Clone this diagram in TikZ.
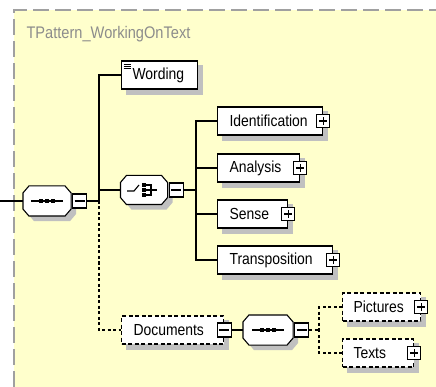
\documentclass[tikz,border=0pt]{standalone}
\usepackage{fontspec}
\setmainfont{Liberation Sans}[FakeStretch=0.87]
\usetikzlibrary{positioning,backgrounds}

\definecolor{bgyellow}{HTML}{FFFFCC}
\definecolor{framegray}{HTML}{A0A0A0}
\definecolor{titlegray}{HTML}{8C8C8C}
\definecolor{boxshadow}{HTML}{C0C0C0}

% octagon round a node, #1 = offset of the copy (shadow), #2 = node
\newcommand\octpath[2]{%
  ([shift={(6+#1,#1)}]#2.north west) -- ([shift={(-6+#1,#1)}]#2.north east)
  -- ([shift={(#1,7+#1)}]#2.north east) -- ([shift={(#1,-7+#1)}]#2.south east)
  -- ([shift={(-6+#1,#1)}]#2.south east) -- ([shift={(6+#1,#1)}]#2.south west)
  -- ([shift={(#1,-7+#1)}]#2.south west) -- ([shift={(#1,7+#1)}]#2.north west) -- cycle}
\newcommand\drawoct[1]{%
  \fill[boxshadow] \octpath{5}{#1};
  \filldraw[fill=white] \octpath{0}{#1};}
\newcommand\seqicon[1]{%
  \draw ([xshift=-16pt]#1.center) -- ([xshift=16pt]#1.center);
  \foreach \dx in {-6,0,6}
    \fill[black] ([shift={(\dx-1.75,-1.75)}]#1.center) rectangle +(3.5,3.5);}
\newcommand\choiceicon[1]{%
  \draw ([shift={(-17,1)}]#1.center) -- ++(7,0) -- ++(5,-6);
  \foreach \dy in {-5,0,5}
    \fill[black] ([shift={(-1.75,\dy-1.75)}]#1.center) rectangle +(3.5,3.5);
  \draw ([shift={(2,-5)}]#1.center) -| ([shift={(7,5)}]#1.center) -- ([shift={(2,5)}]#1.center);
  \draw ([shift={(2,0)}]#1.center) -- ([shift={(13,0)}]#1.center);}

\begin{document}
\begin{tikzpicture}[
        x=1pt,y=-1pt,
        line width=1.1pt,
        font=\fontsize{16}{18}\selectfont,
        elbox/.style={draw,fill=white,anchor=west,minimum height=28pt,inner xsep=12pt,inner ysep=0pt,align=left},
        optbox/.style={elbox,dash pattern=on 4pt off 2.5pt},
        octbox/.style={rectangle,minimum width=47pt,minimum height=29pt,inner sep=0pt},
        listicon/.style={path picture={
            \foreach \dy in {3,5,7}
                \draw[line width=.8pt] ([shift={(2,\dy)}]path picture bounding box.north west) -- +(7,0);
        }},
        togglebox/.style={draw,fill=white,solid,inner sep=0pt,minimum width=14pt,minimum height=14pt},
        minusbox/.style={togglebox,path picture={
            \draw ([xshift=-5pt]path picture bounding box.center) -- ([xshift=5pt]path picture bounding box.center);
        }},
        plusbox/.style={togglebox,minimum width=13pt,minimum height=13pt,path picture={
            \draw ([xshift=-4pt]path picture bounding box.center) -- ([xshift=4pt]path picture bounding box.center)
                ([yshift=-4pt]path picture bounding box.center) -- ([yshift=4pt]path picture bounding box.center);
        }},
        optline/.style={dash pattern=on 3pt off 2.5pt}
    ]

\useasboundingbox (0,0) rectangle (436,387);

% type frame
\begin{scope}[on background layer]
    \fill[bgyellow] (14,10) rectangle (436,387);
\end{scope}
\draw[framegray,line width=1.3pt,dash pattern=on 16pt off 6pt] (14,387) -- (14,10) -- (436,10);
\node[anchor=west,text=titlegray,inner sep=0pt,font=\fontsize{16.8}{18}\selectfont] (title) at (26,34) {TPattern\_WorkingOnText};

\coordinate (in) at (0,201);
\coordinate (seqbus) at (99,201);
\coordinate (choicebus) at (196,190);
\coordinate (docbus) at (319,330);

\node[octbox] (seq) at (47,201) {};
\drawoct{seq}
\seqicon{seq}
\node[minusbox,right=1pt of seq] (seqtog) {};

\node[elbox,text width=54pt,inner xsep=11pt,listicon] (wording) at (121,75) {Wording};

\node[octbox,minimum width=46pt,minimum height=28pt] (choice) at (144,190) {};
\drawoct{choice}
\choiceicon{choice}
\node[minusbox,right=1pt of choice] (choicetog) {};

\node[elbox,text width=81pt] (ident) at (217,121) {Identification};
\node[plusbox] (identtog) at (ident.east) {};
\node[elbox,text width=58pt] (analysis) at (217,168) {Analysis};
\node[plusbox] (analysistog) at (analysis.east) {};
\node[elbox,text width=46pt] (sense) at (217,214) {Sense};
\node[plusbox] (sensetog) at (sense.east) {};
\node[elbox,text width=91pt] (transp) at (217,260) {Transposition};
\node[plusbox] (transptog) at (transp.east) {};

\node[optbox,text width=78pt] (documents) at (121,330) {Documents};
\node[minusbox] (doctog) at (documents.east) {};

\node[octbox,minimum width=49pt] (docseq) at (268,330) {};
\drawoct{docseq}
\seqicon{docseq}
\node[minusbox,right=1pt of docseq] (docseqtog) {};

\node[optbox,text width=56pt,inner xsep=11pt] (pictures) at (342,307) {Pictures};
\node[plusbox] (picturestog) at (pictures.east) {};
\node[optbox,text width=49pt,inner xsep=11pt] (texts) at (342,353) {Texts};
\node[plusbox] (textstog) at (texts.east) {};

% shadows of the element boxes
\begin{scope}[on background layer]
    \foreach \n in {wording,ident,analysis,sense,transp,documents,pictures,texts}
        \fill[boxshadow] ([shift={(5,5)}]\n.north west) rectangle ([shift={(5,5)}]\n.south east);
\end{scope}

% connectors
\draw (in) -- (seq);
\draw (seqtog) -- (seqbus);
\draw (wording.west) -| (seqbus);
\draw (choice.west) -| (seqbus);
\draw[optline] (seqbus) |- (documents.west);

\draw (choicetog) -- (choicebus);
\foreach \n in {ident,analysis,sense,transp}
    \draw (\n.west) -| (choicebus);

\draw (doctog) -- (docseq);
\draw[optline] (docseqtog) -- (docbus);
\foreach \n in {pictures,texts}
    \draw[optline] (\n.west) -| (docbus);

\end{tikzpicture}
\end{document}
